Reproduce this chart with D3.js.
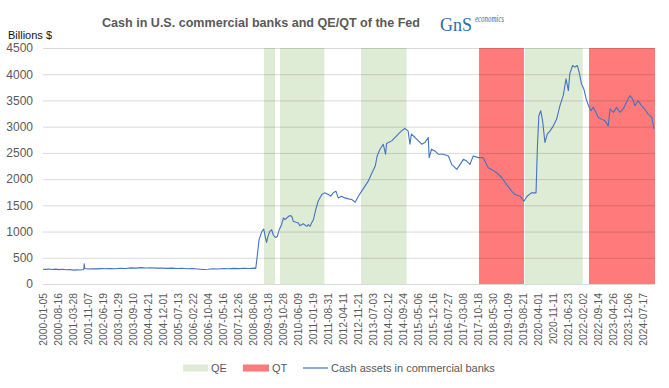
<!DOCTYPE html>
<html>
<head>
<meta charset="utf-8">
<script src="https://cdn.jsdelivr.net/npm/d3@7"></script>
<style>
  html, body { margin: 0; padding: 0; background: #fff; }
  svg { display: block; font-family: "Liberation Sans", Arial, sans-serif; }
</style>
</head>
<body>
<svg id="chart" width="669" height="388"></svg>
<script>
// ---------------- DATA ----------------
const cashDates = [
 "2000-01-05","2000-02-16","2000-04-05","2000-05-24","2000-07-12","2000-09-06","2000-10-25","2000-12-20",
 "2001-02-14","2001-04-04","2001-05-30","2001-07-18","2001-09-05","2001-09-12","2001-09-19","2001-11-07",
 "2002-01-02","2002-03-06","2002-05-15","2002-07-24","2002-10-02","2002-12-18","2003-03-05","2003-05-21",
 "2003-08-06","2003-10-22","2004-01-07","2004-03-24","2004-06-09","2004-08-25","2004-11-10","2005-01-26",
 "2005-04-13","2005-06-29","2005-09-14","2005-11-30","2006-02-15","2006-05-03","2006-07-19","2006-10-04",
 "2006-12-20","2007-03-07","2007-05-23","2007-08-08","2007-10-24","2008-01-09","2008-03-26","2008-06-11",
 "2008-08-27","2008-09-17","2008-10-08","2008-11-05","2008-12-17","2009-01-14","2009-02-04","2009-02-25",
 "2009-03-18","2009-04-15","2009-05-13","2009-06-03","2009-07-08","2009-08-05","2009-09-02","2009-10-07",
 "2009-11-04","2009-11-25","2009-12-23","2010-02-03","2010-03-10","2010-03-31","2010-05-12","2010-06-16",
 "2010-07-07","2010-08-25","2010-10-20","2010-11-10","2010-12-08","2010-12-29","2011-01-26","2011-03-02",
 "2011-04-06","2011-06-01","2011-07-13","2011-09-07","2011-10-12","2011-11-16","2011-12-28","2012-02-01",
 "2012-03-21","2012-05-09","2012-07-04","2012-08-22","2012-10-10","2012-11-28","2013-01-16","2013-03-06",
 "2013-04-24","2013-06-19","2013-08-07","2013-09-04","2013-10-16","2013-12-04","2014-01-08","2014-01-22",
 "2014-02-19","2014-04-09","2014-05-28","2014-07-16","2014-09-03","2014-10-22","2014-12-10","2015-01-07",
 "2015-01-28","2015-03-25","2015-05-13","2015-07-01","2015-08-19","2015-10-07","2015-10-21","2015-11-25",
 "2016-01-13","2016-03-09","2016-05-18","2016-08-03","2016-09-21","2016-12-07","2017-01-25","2017-03-15",
 "2017-05-03","2017-06-21","2017-08-09","2017-10-25","2018-01-03","2018-03-21","2018-05-09","2018-07-25",
 "2018-10-10","2018-12-19","2019-03-06","2019-04-24","2019-07-10","2019-09-04","2019-10-23","2019-12-25",
 "2020-03-04","2020-03-25","2020-04-15","2020-05-13","2020-06-10","2020-07-15","2020-08-19","2020-09-30",
 "2020-11-18","2021-01-06","2021-02-24","2021-04-14","2021-05-26","2021-06-30","2021-07-21","2021-09-01",
 "2021-10-06","2021-11-10","2021-12-08","2022-01-12","2022-02-16","2022-03-23","2022-04-27","2022-06-01",
 "2022-07-06","2022-08-17","2022-09-21","2022-11-09","2022-12-28","2023-02-15","2023-03-15","2023-05-03",
 "2023-06-21","2023-08-09","2023-09-27","2023-11-15","2024-01-03","2024-02-14","2024-03-20","2024-05-08",
 "2024-06-26","2024-08-14","2024-10-02","2024-11-27","2024-12-31"
];
const cashValues = [
 282,278,285,276,283,274,280,272,
 276,265,270,268,275,385,295,285,
 292,288,294,290,296,292,300,296,
 308,303,312,305,310,302,306,298,
 302,295,300,292,296,285,276,280,
 290,286,295,290,298,294,300,296,
 302,298,523,843,1003,1048,907,792,
 907,1003,1035,939,888,907,1035,1131,
 1259,1227,1259,1304,1291,1195,1176,1163,
 1112,1150,1099,1131,1099,1163,1227,1419,
 1578,1706,1738,1706,1674,1738,1770,1642,
 1674,1642,1623,1610,1559,1674,1770,1866,
 1961,2122,2250,2442,2569,2665,2473,2680,
 2697,2729,2793,2857,2920,2965,2920,2665,
 2857,2793,2729,2665,2697,2793,2410,2569,
 2537,2473,2473,2441,2281,2185,2281,2377,
 2345,2281,2441,2410,2410,2218,2185,2122,
 2026,1898,1770,1706,1674,1578,1674,1738,
 1738,2633,3208,3304,3112,2697,2857,2920,
 3016,3144,3400,3592,3912,3688,4007,4167,
 4135,4167,4040,3816,3720,3528,3400,3304,
 3368,3272,3176,3144,3112,3016,3336,3272,
 3368,3272,3336,3464,3592,3528,3400,3496,
 3400,3336,3240,3176,2952
];
const qeStarts = ["2009-01-18","2009-09-14","2013-01-06","2019-09-21"];
const qeEnds   = ["2009-07-01","2011-07-09","2014-11-18","2022-01-30"];
const qtStarts = ["2017-11-03","2022-05-04"];
const qtEnds   = ["2019-09-06","2025-01-14"];
const xTickLabels = [
 "2000-01-05","2000-08-16","2001-03-28","2001-11-07","2002-06-19","2003-01-29","2003-09-10","2004-04-21",
 "2004-12-01","2005-07-13","2006-02-22","2006-10-04","2007-05-16","2007-12-26","2008-08-06","2009-03-18",
 "2009-10-28","2010-06-09","2011-01-19","2011-08-31","2012-04-11","2012-11-21","2013-07-03","2014-02-12",
 "2014-09-24","2015-05-06","2015-12-16","2016-07-27","2017-03-08","2017-10-18","2018-05-30","2019-01-09",
 "2019-08-21","2020-04-01","2020-11-11","2021-06-23","2022-02-02","2022-09-14","2023-04-26","2023-12-06",
 "2024-07-17"
];
const yTicks = [0,500,1000,1500,2000,2500,3000,3500,4000,4500];
const chartTitle = "Cash in U.S. commercial banks and QE/QT of the Fed";
const yUnit = "Billions $";
const legendLabels = ["QE","QT","Cash assets in commercial banks"];

// ---------------- CHART ----------------
const parse = d3.utcParse("%Y-%m-%d");
const svg = d3.select("#chart");
const L = 43, R = 655, T = 48, B = 284;

const x = d3.scaleUtc().domain([parse("2000-01-05"), parse("2025-01-14")]).range([L, R]);
const y = d3.scaleLinear().domain([0, 4500]).range([B, T]);

const QE_COLOR = "#dfecd5", QT_COLOR = "#ff7b7b", LINE_COLOR = "#4472c4", TEXT = "#595959";

// bands
const bands = svg.append("g");
qeStarts.forEach((s, i) => {
  bands.append("rect").attr("x", x(parse(s))).attr("y", y(4500))
    .attr("width", x(parse(qeEnds[i])) - x(parse(s))).attr("height", y(0) - y(4500))
    .attr("fill", QE_COLOR);
});
qtStarts.forEach((s, i) => {
  bands.append("rect").attr("x", x(parse(s))).attr("y", y(4500))
    .attr("width", x(parse(qtEnds[i])) - x(parse(s))).attr("height", y(0) - y(4500))
    .attr("fill", QT_COLOR);
});

// gridlines + y labels
const yAxis = d3.axisLeft(y).tickValues(yTicks).tickSize(-(R - L)).tickPadding(10).tickFormat(d3.format("d"));
const gy = svg.append("g").attr("transform", `translate(${L},0)`).call(yAxis);
gy.select(".domain").remove();
gy.selectAll(".tick line").attr("stroke", "#000").attr("stroke-opacity", 0.15).attr("stroke-width", 1);
gy.selectAll(".tick text").attr("fill", TEXT).attr("font-size", 12)
  .attr("font-family", "'Liberation Sans', Arial, sans-serif");

// x labels
const xAxis = d3.axisBottom(x).tickValues(xTickLabels.map(parse)).tickSize(0).tickFormat(d3.utcFormat("%Y-%m-%d"));
const gx = svg.append("g").attr("transform", `translate(0,${B})`).call(xAxis);
gx.select(".domain").remove();
gx.selectAll(".tick text")
  .attr("fill", TEXT).attr("font-size", 10.3)
  .attr("font-family", "'Liberation Sans', Arial, sans-serif")
  .attr("text-anchor", "end")
  .attr("transform", "translate(0,9) rotate(-90)")
  .attr("x", 0).attr("y", 0).attr("dy", "0.35em");

// line
const series = cashDates.map((d, i) => ({ date: parse(d), value: cashValues[i] }));
const line = d3.line().x(d => x(d.date)).y(d => y(d.value));
svg.append("path").datum(series).attr("d", line)
  .attr("fill", "none").attr("stroke", LINE_COLOR).attr("stroke-width", 1.1).attr("stroke-linejoin", "round");

// title
svg.append("text").attr("x", 261).attr("y", 27).attr("text-anchor", "middle")
  .attr("font-size", 13).attr("font-weight", "bold").attr("fill", TEXT)
  .attr("textLength", 318).attr("lengthAdjust", "spacingAndGlyphs")
  .text(chartTitle);

// unit label
svg.append("text").attr("x", 8).attr("y", 38.5).attr("font-size", 11).attr("fill", "#111").text(yUnit);

// logo: two separate, non-overlapping texts
svg.append("text").attr("x", 440).attr("y", 31).attr("fill", "#2a6db5")
  .attr("font-family", "'Liberation Serif', serif").attr("font-size", 19)
  .attr("textLength", 32).attr("lengthAdjust", "spacingAndGlyphs").text("GnS");
svg.append("text").attr("x", 475).attr("y", 22).attr("fill", "#2a6db5")
  .attr("font-family", "'Liberation Serif', serif").attr("font-size", 10).attr("font-style", "italic")
  .attr("textLength", 29).attr("lengthAdjust", "spacingAndGlyphs").text("economics");

// legend
const lg = svg.append("g").attr("font-size", 11).attr("fill", TEXT);
const LY = 368;
lg.append("rect").attr("x", 183).attr("y", LY - 3.5).attr("width", 25).attr("height", 7).attr("fill", QE_COLOR);
lg.append("text").attr("x", 211).attr("y", LY).attr("dy", "0.35em").text(legendLabels[0]);
lg.append("rect").attr("x", 243).attr("y", LY - 3.5).attr("width", 26).attr("height", 7).attr("fill", QT_COLOR);
lg.append("text").attr("x", 272).attr("y", LY).attr("dy", "0.35em").text(legendLabels[1]);
lg.append("line").attr("x1", 303).attr("x2", 328).attr("y1", LY).attr("y2", LY)
  .attr("stroke", LINE_COLOR).attr("stroke-width", 1.2);
lg.append("text").attr("x", 331).attr("y", LY).attr("dy", "0.35em").text(legendLabels[2]);
</script>
</body>
</html>
